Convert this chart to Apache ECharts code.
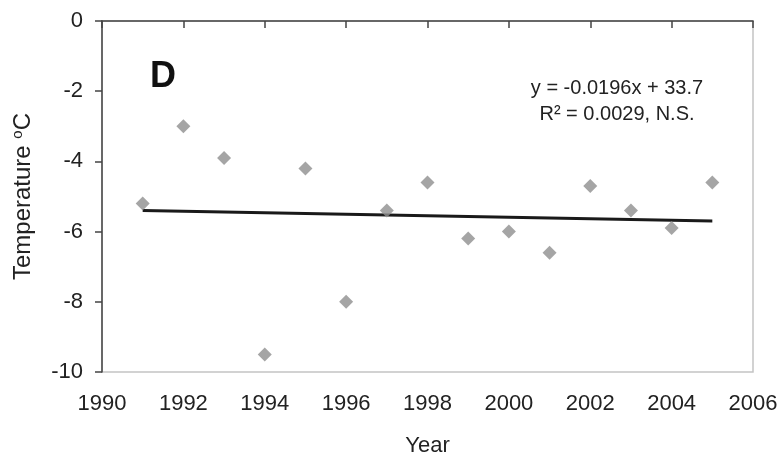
<!DOCTYPE html>
<html>
<head>
<meta charset="utf-8">
<script src="https://cdn.jsdelivr.net/npm/echarts@6/dist/echarts.min.js"></script>
<style>html,body{margin:0;padding:0;background:#fff;}#c{width:778px;height:457px;}</style>
</head>
<body>
<div id="c"></div>
<script>
var years = [1991,1992,1993,1994,1995,1996,1997,1998,1999,2000,2001,2002,2003,2004,2005];
var temps = [-5.2,-3.0,-3.9,-9.5,-4.2,-8.0,-5.4,-4.6,-6.2,-6.0,-6.6,-4.7,-5.4,-5.9,-4.6];
var trendYears = [1991, 2005];
var trendTemps = [-5.4, -5.7];
var xTicks = [1990, 2006, 2];
var yTicks = [-10, 0, 2];

var font = 'Liberation Sans, Arial, Helvetica, sans-serif';
var chart = echarts.init(document.getElementById('c'), null, {renderer: 'canvas'});
chart.setOption({
  animation: false,
  backgroundColor: '#fff',
  grid: {left: 102, top: 21, right: 25, bottom: 85, show: true, borderColor: '#c4c4c4', borderWidth: 1.5,
         containLabel: false, outerBoundsMode: 'none'},
  xAxis: {
    type: 'value', min: xTicks[0], max: xTicks[1], interval: xTicks[2],
    name: 'Year', nameLocation: 'middle', nameGap: 63,
    nameTextStyle: {fontFamily: font, fontSize: 22, color: '#222'},
    axisLine: {show: true, lineStyle: {color: '#444', width: 1.5}},
    axisTick: {show: true, length: 7, lineStyle: {color: '#444', width: 1.5}},
    axisLabel: {fontFamily: font, fontSize: 22, color: '#222', margin: 21, formatter: function (v) { return String(v); }},
    splitLine: {show: false}
  },
  yAxis: {
    type: 'value', min: yTicks[0], max: yTicks[1], interval: yTicks[2],
    name: 'Temperature {sup|o}C', nameLocation: 'middle', nameGap: 66, nameRotate: 90,
    nameTextStyle: {fontFamily: font, fontSize: 24, color: '#222',
      rich: {sup: {fontFamily: font, fontSize: 15, color: '#222', verticalAlign: 'top', padding: [0,0,11,0]}}},
    axisLine: {show: true, onZero: false, lineStyle: {color: '#444', width: 1.5}},
    axisTick: {show: true, length: 7, lineStyle: {color: '#444', width: 1.5}},
    axisLabel: {fontFamily: font, fontSize: 22, color: '#222', margin: 19},
    splitLine: {show: false}
  },
  graphic: [
    {type: 'text', left: 150, top: 59, style: {text: 'D', font: 'bold 36px ' + font, fill: '#111'}},
    {type: 'text', x: 617, y: 88, style: {text: 'y = -0.0196x + 33.7', font: '20px ' + font, fill: '#222', textAlign: 'center', textVerticalAlign: 'middle'}},
    {type: 'text', x: 617, y: 114, style: {text: 'R\u00B2 = 0.0029, N.S.', font: '20px ' + font, fill: '#222', textAlign: 'center', textVerticalAlign: 'middle'}}
  ],
  series: [
    {
      type: 'line', data: trendYears.map(function (y, i) { return [y, trendTemps[i]]; }),
      showSymbol: false, symbol: 'none', lineStyle: {color: '#1a1a1a', width: 3}, z: 2
    },
    {
      type: 'scatter', data: years.map(function (y, i) { return [y, temps[i]]; }),
      symbol: 'diamond', symbolSize: [14, 14], itemStyle: {color: '#8e8e8e'}, z: 3
    }
  ]
});
</script>
</body>
</html>
